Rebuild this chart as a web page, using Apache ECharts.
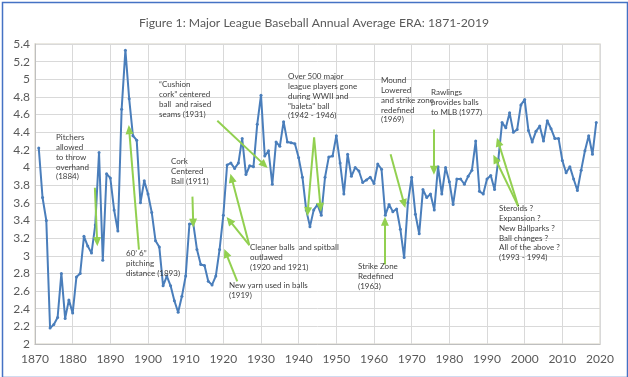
<!DOCTYPE html>
<html>
<head>
<meta charset="utf-8">
<script src="https://cdn.jsdelivr.net/npm/echarts@6/dist/echarts.min.js"></script>
<style>
  html, body { margin: 0; padding: 0; background: #fff; }
  #chart { width: 628px; height: 377px; }
</style>
</head>
<body>
<div id="chart"></div>
<script>
// annual average ERA, 1871-2019
const firstYear = 1871;
const era = [
  4.22, 3.66, 3.40, 2.18, 2.22, 2.30, 2.80, 2.29, 2.50, 2.35,   // 1871-1880
  2.76, 2.80, 3.22, 3.11, 3.03, 3.35, 4.17, 2.95, 3.93, 3.88,   // 1881-1890
  3.52, 3.28, 4.66, 5.33, 4.78, 4.36, 4.31, 3.60, 3.85, 3.70,   // 1891-1900
  3.49, 3.17, 3.10, 2.66, 2.77, 2.66, 2.49, 2.36, 2.54, 2.77,   // 1901-1910
  3.36, 3.37, 3.07, 2.90, 2.89, 2.71, 2.67, 2.77, 3.07, 3.46,   // 1911-1920
  4.03, 4.05, 3.99, 4.05, 4.33, 3.92, 4.02, 4.01, 4.49, 4.82,   // 1921-1930
  4.13, 4.19, 3.81, 4.29, 4.24, 4.52, 4.29, 4.28, 4.27, 4.11,   // 1931-1940
  3.89, 3.52, 3.33, 3.52, 3.58, 3.46, 3.89, 4.12, 4.13, 4.36,   // 1941-1950
  4.05, 3.70, 4.15, 3.90, 4.00, 3.96, 3.83, 3.86, 3.89, 3.82,   // 1951-1960
  4.04, 3.98, 3.46, 3.58, 3.50, 3.53, 3.30, 2.98, 3.60, 3.89,   // 1961-1970
  3.47, 3.25, 3.75, 3.66, 3.70, 3.52, 4.01, 3.70, 4.00, 3.84,   // 1971-1980
  3.58, 3.87, 3.87, 3.81, 3.90, 3.97, 4.30, 3.73, 3.70, 3.87,   // 1981-1990
  3.91, 3.75, 4.09, 4.51, 4.45, 4.62, 4.40, 4.43, 4.71, 4.77,   // 1991-2000
  4.42, 4.29, 4.41, 4.47, 4.30, 4.53, 4.44, 4.33, 4.33, 4.08,   // 2001-2010
  3.94, 4.01, 3.87, 3.74, 3.97, 4.19, 4.36, 4.15, 4.51          // 2011-2019
];

// annotation arrows, [fromYear, fromEra, toYear, toEra]
const arrows = [
  [1885.9, 3.77, 1886.5, 3.16],
  [1897.6, 3.07, 1895.0, 4.43],
  [1918.4, 4.53, 1930.9, 4.03],
  [1911.8, 3.67, 1912.0, 3.37],
  [1926.9, 3.12, 1922.2, 3.88],
  [1926.9, 3.12, 1921.6, 3.40],
  [1923.7, 2.71, 1920.7, 3.03],
  [1944.1, 4.34, 1942.4, 3.50],
  [1944.1, 4.34, 1945.8, 3.55],
  [1964.4, 4.15, 1968.0, 3.59],
  [1975.9, 4.43, 1975.9, 3.97],
  [1962.9, 2.90, 1962.9, 3.39],
  [1998.3, 3.56, 1993.0, 4.29],
  [1998.3, 3.56, 1992.2, 4.10]
];

// annotation notes: [left, top, text]
const notes = [
  [56, 133, 'Pitchers\nallowed\nto throw\noverhand\n(1884)'],
  [126, 249, '60\u2019 6\u201d\npitching\ndistance (1893)'],
  [159, 80, '\u201cCushion\ncork\u201d centered\nball  and raised\nseams (1931)'],
  [171, 157, 'Cork\nCentered\nBall (1911)'],
  [250, 243, 'Cleaner balls  and spitball\noutlawed\n(1920 and 1921)'],
  [229, 281, 'New yarn used in balls\n(1919)'],
  [288, 72, 'Over 500 major\nleague players gone\nduring WWII and\n"baleta" ball\n(1942 - 1946)'],
  [381, 76, 'Mound\nLowered\nand strike zone\nredefined\n(1969)'],
  [431, 88, 'Rawlings\nprovides balls\nto MLB (1977)'],
  [358, 262, 'Strike Zone\nRedefined\n(1963)'],
  [499, 204, 'Steroids ?\nExpansion ?\nNew Ballparks ?\nBall changes ?\nAll of the above ?\n(1993 - 1994)']
];

const points = era.map((v, i) => [firstYear + i, v]);

const chart = echarts.init(document.getElementById('chart'));

const option = {
  animation: false,
  title: {
    text: 'Figure 1: Major League Baseball Annual Average ERA: 1871-2019',
    left: 'center',
    top: 12,
    textStyle: {
      fontFamily: 'Lato',
      fontSize: 12.2,
      fontWeight: 'normal',
      color: '#595959'
    }
  },
  grid: {
    left: 35,
    right: 28,
    top: 44,
    bottom: 33,
    show: true,
    borderColor: '#e4e1d7',
    borderWidth: 1.5
  },
  xAxis: {
    type: 'value',
    min: 1870,
    max: 2020,
    interval: 10,
    axisLine: { lineStyle: { color: '#bfbfbf', width: 1 } },
    axisTick: { show: false },
    axisLabel: {
      color: '#595959',
      fontFamily: 'Lato',
      fontSize: 12,
      margin: 9,
      formatter: v => String(v)
    },
    splitLine: { show: true, lineStyle: { color: '#d9d9d9' } }
  },
  yAxis: {
    type: 'value',
    min: 2,
    max: 5.4,
    interval: 0.2,
    axisLine: { show: true, lineStyle: { color: '#bfbfbf', width: 1 } },
    axisTick: { show: false },
    axisLabel: {
      color: '#595959',
      fontFamily: 'Lato',
      fontSize: 12,
      margin: 5,
      formatter: v => String(Math.round(v * 10) / 10)
    },
    splitLine: { show: true, lineStyle: { color: '#d9d9d9' } }
  },
  series: [{
    type: 'line',
    data: points,
    symbol: 'circle',
    symbolSize: 3,
    lineStyle: { color: '#4a7ebb', width: 2 },
    itemStyle: { color: '#4a7ebb' },
    z: 3,
    markLine: {
      silent: true,
      symbol: ['none', 'triangle'],
      symbolSize: [8, 9],
      label: { show: false },
      lineStyle: { color: '#92d050', width: 2, type: 'solid' },
      data: arrows.map(a => [
        { coord: [a[0], a[1]] },
        { coord: [a[2], a[3]] }
      ])
    }
  }],
  graphic: [
    {
      type: 'rect',
      left: 0,
      top: 0,
      shape: { x: 0.5, y: 0.5, width: 625, height: 375 },
      style: { fill: 'none', stroke: '#4472c4', lineWidth: 1.5 },
      silent: true
    }
  ].concat(notes.map(n => ({
    type: 'text',
    x: n[0],
    y: n[1],
    z: 10,
    style: {
      text: n[2],
      fill: '#404040',
      font: '8px Lato',
      lineHeight: 9.7
    }
  })))
};

chart.setOption(option);
</script>
</body>
</html>
